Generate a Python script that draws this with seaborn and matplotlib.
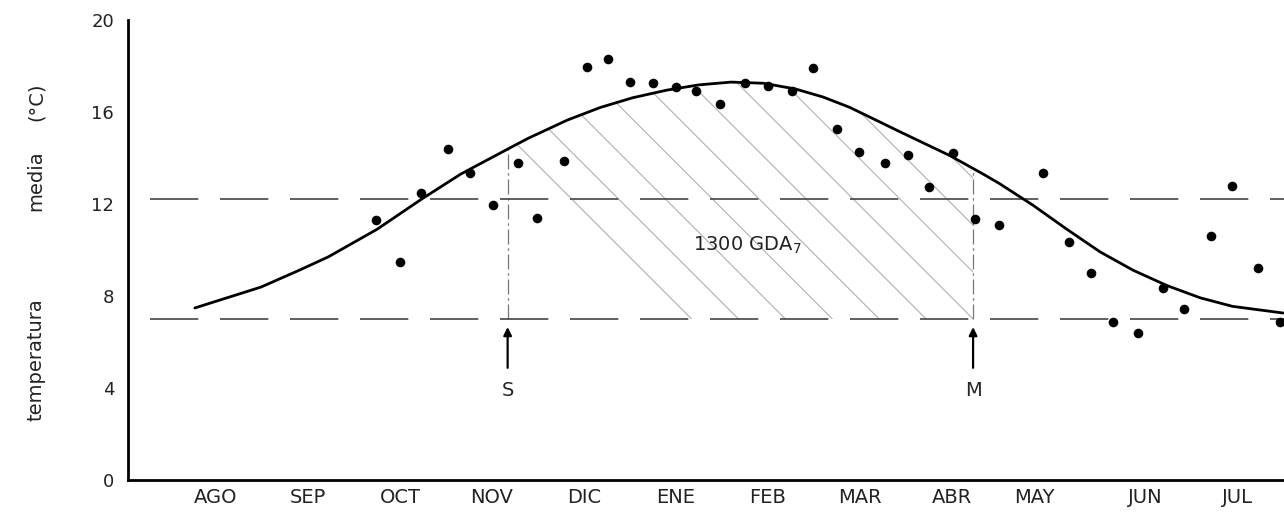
import numpy as np
import matplotlib
matplotlib.use("Agg")
import matplotlib.pyplot as plt
import seaborn as sns
import pandas as pd

# meses (eje x en meses desde el 1 de agosto)
meses = ["AGO", "SEP", "OCT", "NOV", "DIC", "ENE", "FEB", "MAR", "ABR", "MAY", "JUN", "JUL"]
pos_meses = [0.5, 1.5, 2.5, 3.5, 4.5, 5.5, 6.5, 7.5, 8.5, 9.4, 10.6, 11.6]

# temperaturas medias semanales observadas
obs_x = [2.24, 2.50, 2.73, 3.02, 3.26, 3.51, 3.78, 3.99, 4.28, 4.53, 4.76, 5.00, 5.25,
         5.50, 5.72, 5.98, 6.25, 6.50, 6.76, 6.99, 7.25, 7.49, 7.77, 8.02, 8.25, 8.51,
         8.75, 9.01, 9.49, 9.77, 10.01, 10.25, 10.52, 10.79, 11.02, 11.32, 11.54, 11.83, 12.07]
obs_t = [11.3, 9.5, 12.5, 14.4, 13.35, 11.95, 13.8, 11.4, 13.85, 17.95, 18.3, 17.3, 17.25,
         17.1, 16.9, 16.35, 17.25, 17.15, 16.9, 17.9, 15.25, 14.25, 13.8, 14.15, 12.75, 14.2,
         11.35, 11.1, 13.35, 10.35, 9.0, 6.85, 6.4, 8.35, 7.45, 10.6, 12.8, 9.2, 6.85]

# curva ajustada
curva_x = [0.27, 0.99, 1.41, 1.72, 2.25, 2.73, 3.16, 3.70, 3.89, 4.32, 4.68, 5.03, 5.40,
           5.75, 6.10, 6.45, 6.80, 7.10, 7.39, 7.93, 8.48, 8.84, 9.02, 9.38, 9.75, 10.11,
           10.47, 10.84, 11.20, 11.55, 12.10]
curva_t = [7.48, 8.39, 9.13, 9.70, 10.9, 12.2, 13.3, 14.45, 14.85, 15.65, 16.2, 16.62, 16.95,
           17.18, 17.3, 17.25, 17.0, 16.65, 16.2, 15.15, 14.1, 13.3, 12.88, 11.95, 10.9, 9.92,
           9.12, 8.45, 7.92, 7.55, 7.26]

umbral_base = 7.0     # temperatura base GDA7
umbral_sup = 12.2
fecha_S = 3.67
fecha_M = 8.73
etiqueta_gda = "1300 GDA$_7$"

sns.set_style("white")
plt.rcParams["font.family"] = ["DejaVu Sans"]

fig = plt.figure(figsize=(12.84, 5.21), dpi=100)
ax = fig.add_axes([128 / 1284, 41 / 521, 1156 / 1284, 460 / 521])

df_obs = pd.DataFrame({"mes": obs_x, "temp": obs_t})
df_curva = pd.DataFrame({"mes": curva_x, "temp": curva_t})

# area sombreada entre S y M
xs = np.array(curva_x)
ys = np.array(curva_t)
dentro = (xs > fecha_S) & (xs < fecha_M)
px = np.concatenate([[fecha_S], xs[dentro], [fecha_M]])
py = np.concatenate([[np.interp(fecha_S, xs, ys)], ys[dentro], [np.interp(fecha_M, xs, ys)]])
zona = ax.fill_between(px, umbral_base, py, facecolor="none", edgecolor="none")
clip = zona.get_paths()[0]
for x0 in np.arange(fecha_S - 3.0, fecha_M + 0.5, 0.51):
    ln, = ax.plot([x0, x0 + 5.0], [umbral_base + 20, umbral_base], color="#b0b0b0", lw=0.8, zorder=1)
    ln.set_clip_path(clip, ax.transData)

# lineas verticales S y M
for xv, yv in [(fecha_S, py[0]), (fecha_M, py[-1])]:
    ax.plot([xv, xv], [umbral_base, yv], color="#777777", lw=0.9,
            linestyle=(0, (12, 3, 2, 3)), zorder=2)

# lineas horizontales de umbral
for yh in [umbral_sup, umbral_base]:
    ax.hlines(yh, -0.22, 12.11, color="#444444", lw=1.2,
              linestyle=(0, (29, 13)), zorder=2)

sns.lineplot(data=df_curva, x="mes", y="temp", ax=ax, color="black", lw=2.0,
             estimator=None, sort=False, zorder=4)
sns.scatterplot(data=df_obs, x="mes", y="temp", ax=ax, color="black", s=48,
                edgecolor="black", linewidth=0, zorder=5)

ax.text(5.68, 10.2, etiqueta_gda, fontsize=14, ha="left", va="center", color="#222222")

for xv, lab in [(fecha_S, "S"), (fecha_M, "M")]:
    ax.annotate(lab, xy=(xv, umbral_base - 0.35), xytext=(xv, 3.9),
                ha="center", va="center", fontsize=14,
                arrowprops=dict(arrowstyle="-|>", color="black", lw=1.6,
                                shrinkA=7, shrinkB=0, mutation_scale=12))

ax.set_xlim(-0.457, 12.11)
ax.set_ylim(0, 20)
ax.set_xticks(pos_meses)
ax.set_xticklabels(meses, fontsize=14)
ax.set_yticks([0, 4, 8, 12, 16, 20])
ax.set_yticklabels(["0", "4", "8", "12", "16", "20"], fontsize=13)
ax.tick_params(axis="y", length=0, pad=10, colors="#222222")
ax.tick_params(axis="x", length=0, pad=6, colors="#222222")
ax.set_xlabel("")
ax.set_ylabel("")

sns.despine(ax=ax, top=True, right=True)
ax.spines["left"].set_linewidth(2.0)
ax.spines["bottom"].set_linewidth(2.0)
ax.spines["left"].set_color("black")
ax.spines["bottom"].set_color("black")

# etiqueta del eje y repartida como en el original
for txt, yc in [("temperatura", 0.309), ("media", 0.653), ("(°C)", 0.804)]:
    fig.text(0.028, yc, txt, rotation=90, fontsize=14, ha="center", va="center",
             color="#222222")

fig.savefig("out.png", dpi=100)
